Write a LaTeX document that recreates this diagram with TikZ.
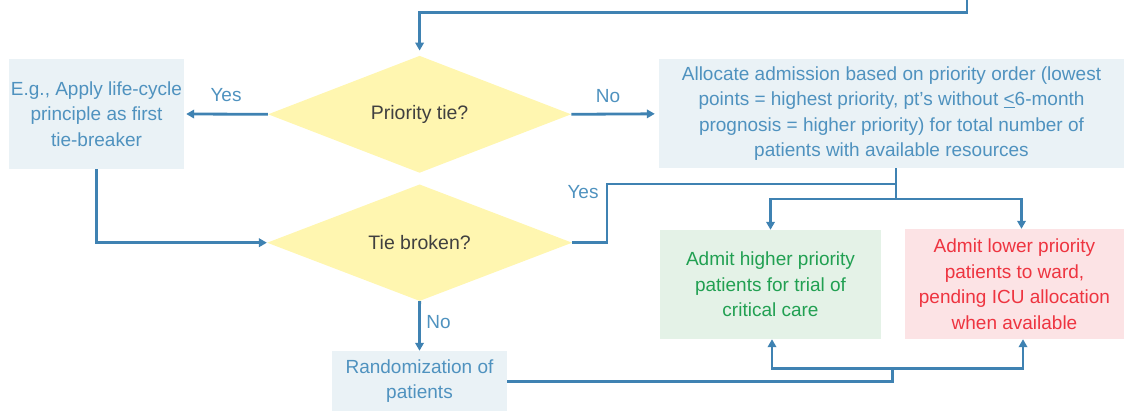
\documentclass[tikz,border=0pt]{standalone}
\usepackage{fontspec}
\setmainfont{Liberation Sans}
\usetikzlibrary{shapes.geometric,arrows.meta}
\definecolor{linecol}{HTML}{3F82B2}
\definecolor{bluetext}{HTML}{4F92BF}
\definecolor{bluefill}{HTML}{EAF2F6}
\definecolor{yelfill}{HTML}{FFF6B0}
\definecolor{greenfill}{HTML}{E4F2E7}
\definecolor{greentext}{HTML}{21A052}
\definecolor{redfill}{HTML}{FCE3E5}
\definecolor{redtext}{HTML}{EE3440}
\definecolor{darktext}{HTML}{404040}
\begin{document}
\begin{tikzpicture}[x=1pt,y=-1pt,
  every node/.style={font=\fontsize{19}{25.5}\selectfont},
  box/.style={rectangle,inner sep=0pt,align=center,text=bluetext,fill=bluefill},
  dia/.style={diamond,inner sep=0pt,fill=yelfill,text=darktext},
  conn/.style={draw=linecol,line width=2.8pt,line join=miter},
  arr/.style={conn,-{Triangle[length=8pt,width=8.5pt]}},
  lbl/.style={text=bluetext}]
\useasboundingbox (0,0) rectangle (1124,411);
% nodes
\node[box,minimum width=175pt,minimum height=110pt] (eg) at (96.5,114) {E.g., Apply life-cycle\\principle as first\\tie-breaker};
\node[dia,minimum width=303pt,minimum height=117pt,font=\fontsize{19.5}{25.5}\selectfont] (d1) at (419.6,114.3) {Priority tie?};
\node[box,minimum width=465pt,minimum height=109pt] (alloc) at (891.5,113.8) {Allocate admission based on priority order (lowest\\points = highest priority, pt’s without \underline{<}6-month\\prognosis = higher priority) for total number of\\patients with available resources};
\node[dia,minimum width=305pt,minimum height=116pt,font=\fontsize{19.5}{25.5}\selectfont] (d2) at (419.6,242.7) {Tie broken?};
\node[box,minimum width=175pt,minimum height=60pt] (rand) at (419.5,381) {Randomization of\\patients};
\node[box,fill=greenfill,text=greentext,minimum width=221pt,minimum height=109pt] (green) at (770.5,284.5) {Admit higher priority\\patients for trial of\\critical care};
\node[box,fill=redfill,text=redtext,minimum width=219pt,minimum height=110pt] (red) at (1014.5,284) {Admit lower priority\\patients to ward,\\pending ICU allocation\\when available};
% coordinates
\coordinate (top) at (967,-2);
\coordinate (ysplit) at (896,199);
\coordinate (bsplit) at (892.7,368.3);
% connectors
\draw[arr,shorten >=5pt] (top) |- (419.6,12.3) -- (d1.north);
\draw[arr,shorten >=2pt] (d1.west) -- node[lbl,above=8pt,pos=0.5] {Yes} (eg.east);
\draw[arr,shorten >=4pt] (d1.east) -- node[lbl,above=7pt,pos=0.42] {No} (alloc.west);
\draw[arr] (eg.south) |- (d2.west);
\draw[arr] (d2.south) -- node[lbl,right=2pt,pos=0.42] {No} (rand.north);
\draw[conn] (d2.east) -- (607,242.7) -- (607,184) -- (896,184);
\node[lbl] (yes2) at (583,192) {Yes};
\draw[conn] (alloc.south -| ysplit) -- (ysplit);
\draw[arr] (ysplit) -| (green.north);
\draw[arr] (ysplit) -| ([xshift=7pt]red.north);
\draw[conn] (rand.east |- 0,381.7) -| (bsplit);
\draw[arr] (bsplit) -| ([xshift=1.5pt]green.south);
\draw[arr] (bsplit) -| ([xshift=8.5pt]red.south);
\end{tikzpicture}
\end{document}
